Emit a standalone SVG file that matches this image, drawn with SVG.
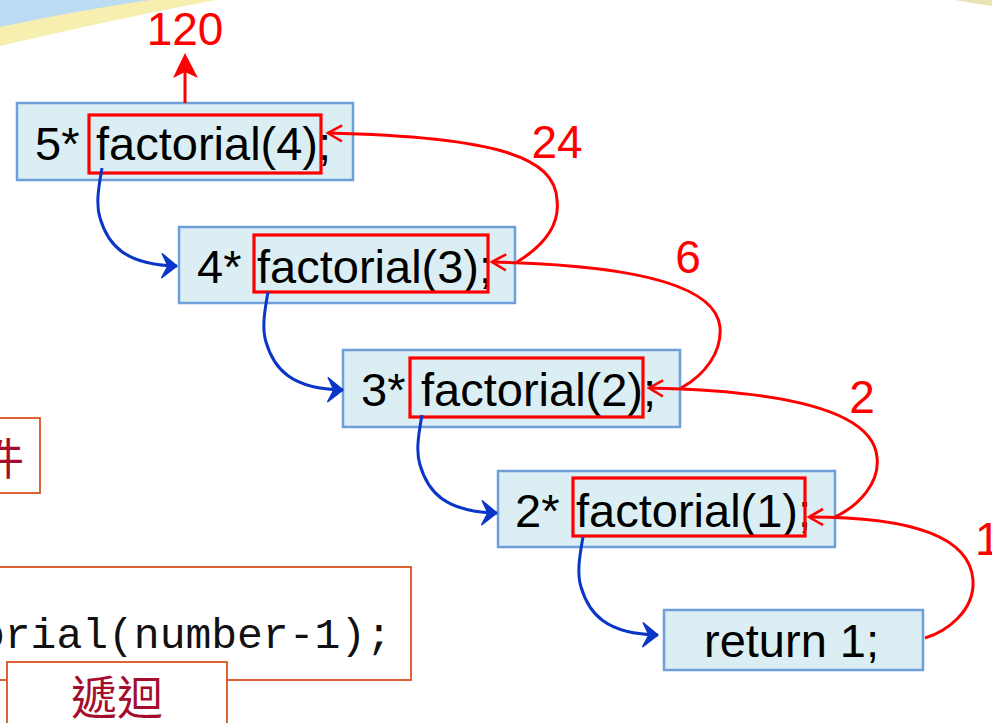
<svg xmlns="http://www.w3.org/2000/svg" width="992" height="723" viewBox="0 0 992 723">
  <style>
    .call { fill: #dbeef4; stroke: #6f9fd8; stroke-width: 2.5; }
    .hl { fill: none; stroke: #ff0000; stroke-width: 3.2; }
    .code { font-family: "Liberation Sans", Arial, sans-serif; font-size: 47px; fill: #000; }
    .val { font-family: "Liberation Sans", Arial, sans-serif; font-size: 46px; fill: #ff0000; }
    .note { fill: #ffffff; stroke: #d9531e; stroke-width: 1.8; }
    .cjk { font-family: "Noto Sans CJK TC", "Noto Sans CJK SC", sans-serif; fill: #a50d2c; }
    .mono { font-family: "Liberation Mono", "Courier New", monospace; font-size: 43px; fill: #111; }
    .ret { fill: none; stroke: #ff0000; stroke-width: 3; marker-end: url(#openHead); }
    .call-edge { fill: none; stroke: #0a36c8; stroke-width: 3; marker-end: url(#blueHead); }
  </style>
  <defs>
    <marker id="openHead" markerUnits="userSpaceOnUse" viewBox="-16 -10 20 20" refX="0" refY="0" markerWidth="20" markerHeight="20" orient="auto" overflow="visible">
      <path d="M -14 -8 Q -5 -3 0 0 Q -5 3 -14 8" fill="none" stroke="#ff0000" stroke-width="2.6" stroke-linejoin="miter"/>
    </marker>
    <marker id="blueHead" markerUnits="userSpaceOnUse" viewBox="-18 -14 22 28" refX="0" refY="0" markerWidth="22" markerHeight="28" orient="auto" overflow="visible">
      <path d="M 0 0 L -15 -12 L -9 0 L -15 12 Z" fill="#0a36c8" stroke="#0a36c8" stroke-width="1.5" stroke-linejoin="round"/>
    </marker>
  </defs>

  <rect x="0" y="0" width="992" height="723" fill="#ffffff"/>

  <!-- slide corner decoration -->
  <path d="M 0 0 L 216 0 Q 120 18 0 46 Z" fill="#f6efb0"/>
  <path d="M 0 0 L 150 0 Q 80 10 0 27 Z" fill="#bcdcf4"/>
  <path d="M 955 0 L 992 0 L 992 6 Q 970 3 955 0 Z" fill="#e9e3b4"/>

  <!-- side notes -->
  <g id="note-condition">
    <rect class="note" x="-10" y="418" width="50" height="75"/>
    <text class="cjk" x="-20" y="475" font-size="44">件</text>
  </g>
  <g id="note-code">
    <rect class="note" x="-10" y="567" width="421" height="113"/>
    <text class="mono" x="-21" y="648">orial(number-1);</text>
  </g>
  <g id="note-recursion">
    <rect class="note" x="7" y="662" width="220" height="80"/>
    <text class="cjk" x="71" y="714" font-size="46">遞迴</text>
  </g>

  <!-- call frames -->
  <g id="frame5">
    <rect class="call" x="17" y="103" width="336" height="77"/>
    <text class="code" x="35" y="160">5*</text>
    <text class="code" x="96" y="160">factorial(4);</text>
    <rect class="hl" x="89" y="115" width="232" height="58"/>
  </g>
  <g id="frame4">
    <rect class="call" x="179" y="227" width="336" height="76"/>
    <text class="code" x="197" y="283">4*</text>
    <text class="code" x="257" y="283">factorial(3);</text>
    <rect class="hl" x="254" y="235" width="234" height="57"/>
  </g>
  <g id="frame3">
    <rect class="call" x="343" y="350" width="337" height="77"/>
    <text class="code" x="361" y="406">3*</text>
    <text class="code" x="421" y="406">factorial(2);</text>
    <rect class="hl" x="410" y="358" width="233" height="59"/>
  </g>
  <g id="frame2">
    <rect class="call" x="498" y="471" width="337" height="76"/>
    <text class="code" x="515" y="527">2*</text>
    <text class="code" x="576" y="527">factorial(1);</text>
    <rect class="hl" x="573" y="478" width="232" height="58"/>
  </g>
  <g id="frame1">
    <rect class="call" x="664" y="610" width="259" height="60"/>
    <text class="code" x="704" y="657">return 1;</text>
  </g>

  <!-- connectors: calls (blue) and returned values (red) -->
  <g id="connectors">
    <path class="call-edge" d="M 102 168 C 98 190, 96 205, 100 218 C 108 245, 125 265, 177 266"/>
    <path class="call-edge" transform="translate(166,124)" d="M 102 168 C 98 190, 96 205, 100 218 C 108 245, 125 265, 177 266"/>
    <path class="call-edge" transform="translate(320,247)" d="M 102 168 C 98 190, 96 205, 100 218 C 108 245, 125 265, 177 266"/>
    <path class="call-edge" transform="translate(481,369)" d="M 102 168 C 98 190, 96 205, 100 218 C 108 245, 125 265, 177 266"/>

    <path class="ret" d="M 925 638 C 945 632, 975 612, 973 580 C 970 540, 920 517, 809 517"/>
    <path class="ret" d="M 835 517 C 860 505, 880 482, 877 457 C 873 415, 800 391, 649 388"/>
    <path class="ret" d="M 681 388 C 705 375, 722 352, 720 327 C 716 287, 640 265, 492 262"/>
    <path class="ret" d="M 517 262 C 545 245, 560 225, 557 200 C 555 158, 500 137, 328 133"/>

    <line x1="185" y1="103" x2="185" y2="70" stroke="#ff0000" stroke-width="3"/>
    <path d="M 185 53 L 173 78 L 185 72 L 198 78 Z" fill="#ff0000"/>
  </g>

  <!-- returned values -->
  <g id="values">
    <text class="val" x="185" y="45" text-anchor="middle">120</text>
    <text class="val" x="557" y="158" text-anchor="middle">24</text>
    <text class="val" x="688" y="273" text-anchor="middle">6</text>
    <text class="val" x="862" y="413" text-anchor="middle">2</text>
    <text class="val" x="975" y="555">1</text>
  </g>
</svg>
